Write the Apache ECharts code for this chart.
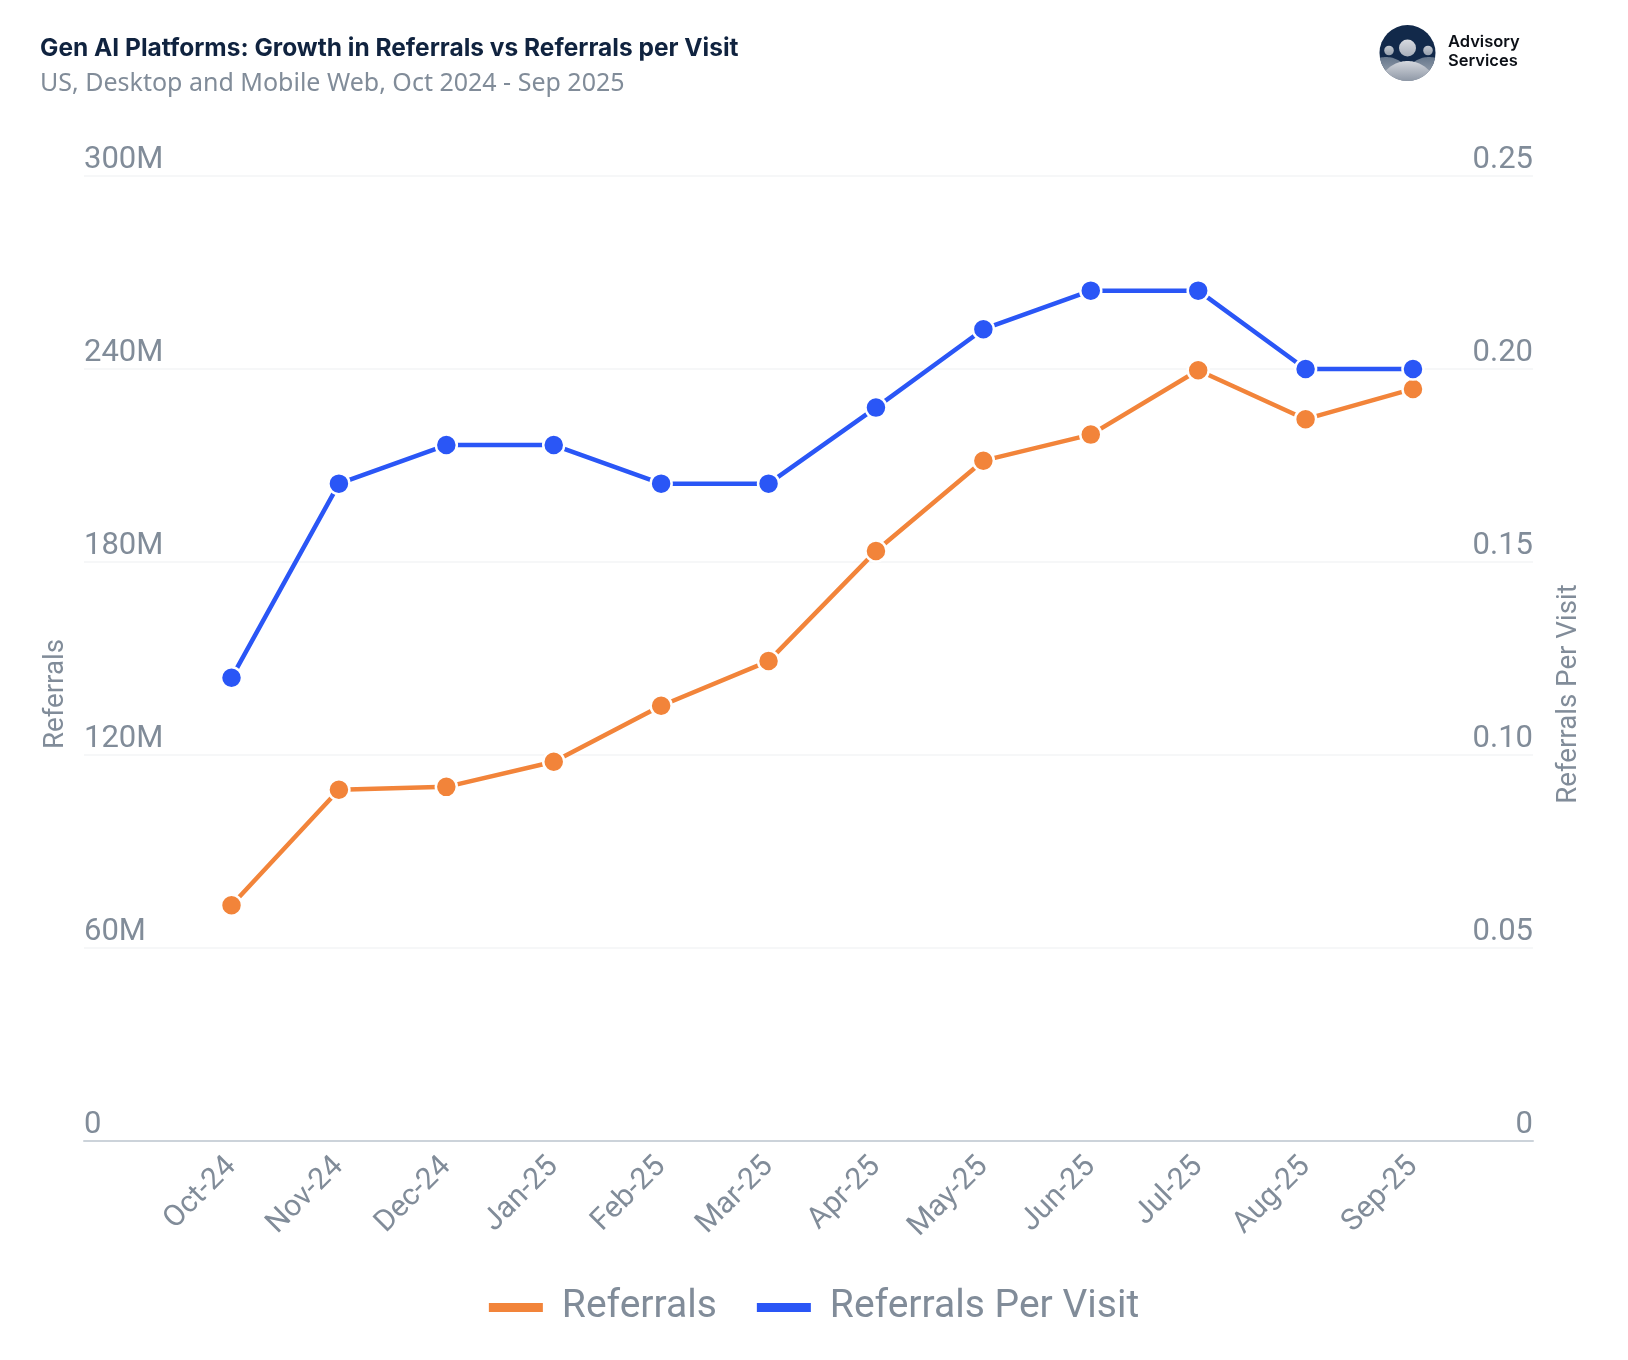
<!DOCTYPE html>
<html><head><meta charset="utf-8">
<style>html,body{margin:0;padding:0;background:#fff}#c{width:1628px;height:1360px}</style>
<script src="https://cdn.jsdelivr.net/npm/echarts@6/dist/echarts.min.js"></script>
</head><body><div id="c"></div>
<script>
const categories = ['Oct-24','Nov-24','Dec-24','Jan-25','Feb-25','Mar-25','Apr-25','May-25','Jun-25','Jul-25','Aug-25','Sep-25'];
const referrals = [73.3e6,109.2e6,110.1e6,117.9e6,135.3e6,149.2e6,183.4e6,211.5e6,219.6e6,239.6e6,224.4e6,233.8e6];
const referralsPerVisit = [0.12,0.1703,0.1803,0.1803,0.1703,0.1703,0.19,0.2103,0.2203,0.2203,0.20,0.20];
const leftMax = 300e6, leftStep = 60e6, rightMax = 0.25, rightStep = 0.05;
const GREY = '#818c99', ORANGE = '#f2843a', BLUE = '#2a56f6', FONT = 'Roboto';

const chart = echarts.init(document.getElementById('c'), null, {renderer:'canvas'});
const leftFmt = v => v === 0 ? '0' : (v/1e6) + 'M';
const rightFmt = v => v === 0 ? '0' : v.toFixed(2);
const gridTop = 176, gridBottom = 1360-1141;
const hiddenY = (max, step, pos) => ({type:'value',gridIndex:1,position:pos,min:0,max,interval:step,show:false});
const lineSeries = (name, data, color, yAxisIndex, z) => ({
  name, type:'line', data, xAxisIndex:1, yAxisIndex, z, color,
  symbol:'circle', symbolSize:21, showSymbol:true,
  lineStyle:{color,width:4.5},
  itemStyle:{color,borderColor:'#fff',borderWidth:2.5},
  emphasis:{disabled:true}, animation:false
});
const grad = (a,b)=>({type:'linear',x:0,y:0,x2:0,y2:1,colorStops:[{offset:0,color:a},{offset:1,color:b}]});
// logo artwork: a dome circle clipped to the logo disc
const LOGO = {cx:1407.5, cy:53, r:28};
const clippedDisc = (cx,cy,r) => {
  const pts = [];
  for (let i=0;i<120;i++){
    const a = i/120*Math.PI*2;
    let x = cx+r*Math.cos(a), y = cy+r*Math.sin(a);
    const d = Math.hypot(x-LOGO.cx,y-LOGO.cy);
    if (d>LOGO.r){ x = LOGO.cx+(x-LOGO.cx)*LOGO.r/d; y = LOGO.cy+(y-LOGO.cy)*LOGO.r/d; }
    pts.push([x,y]);
  }
  return pts;
};
const logoEls = [
  {type:'circle',z:10,shape:{cx:LOGO.cx,cy:LOGO.cy,r:LOGO.r},style:{fill:'#12294a'}},
  {type:'polygon',z:11,shape:{points:clippedDisc(1386,82,25)},style:{fill:grad('#66778c','#a8afb9')}},
  {type:'polygon',z:11,shape:{points:clippedDisc(1429,82,25)},style:{fill:grad('#66778c','#a8afb9')}},
  {type:'polygon',z:12,shape:{points:clippedDisc(LOGO.cx,90,29)},style:{fill:grad('#d5d8de','#8f98a6')}},
  {type:'circle',z:13,shape:{cx:LOGO.cx,cy:48,r:8.5},style:{fill:grad('#d7dae0','#a9b0bb')}},
  {type:'circle',z:13,shape:{cx:1389,cy:50.5,r:4.8},style:{fill:grad('#c3c8d0','#96a0ad')}},
  {type:'circle',z:13,shape:{cx:1428,cy:50.5,r:4.8},style:{fill:grad('#c3c8d0','#96a0ad')}}
];
chart.setOption({
  animation:false, backgroundColor:'#fff',
  grid:[
    {left:84,right:95,top:gridTop,bottom:gridBottom},
    {left:177.8,right:161.3,top:gridTop,bottom:gridBottom}
  ],
  xAxis:[
    {type:'value',gridIndex:0,min:0,max:1,axisLabel:{show:false},axisTick:{show:false},splitLine:{show:false},
     axisLine:{show:true,lineStyle:{color:'#ccd3da',width:2}}},
    {type:'category',gridIndex:1,data:categories,axisTick:{show:false},axisLine:{show:false},splitLine:{show:false},
     axisLabel:{rotate:45,interval:0,color:GREY,fontFamily:FONT,fontSize:30,margin:21}}
  ],
  yAxis:[
    {type:'value',gridIndex:0,position:'left',min:0,max:leftMax,interval:leftStep,
     axisLine:{show:false},axisTick:{show:false},
     splitLine:{show:true,lineStyle:{color:'#f3f4f6',width:1.5}},
     axisLabel:{inside:true,margin:0,align:'left',verticalAlign:'bottom',color:GREY,fontFamily:FONT,fontSize:31,formatter:leftFmt}},
    {type:'value',gridIndex:0,position:'right',min:0,max:rightMax,interval:rightStep,
     axisLine:{show:false},axisTick:{show:false},splitLine:{show:false},
     axisLabel:{inside:true,margin:0,align:'right',verticalAlign:'bottom',color:GREY,fontFamily:FONT,fontSize:31,formatter:rightFmt}},
    hiddenY(leftMax,leftStep,'left'),
    hiddenY(rightMax,rightStep,'right')
  ],
  legend:{
    left:'center',top:1283,itemWidth:54,itemHeight:9,itemGap:40,icon:'rect',
    textStyle:{color:GREY,fontFamily:FONT,fontSize:39,padding:[0,0,0,14]},
    itemStyle:{borderWidth:0},
    data:['Referrals','Referrals Per Visit']
  },
  series:[
    lineSeries('Referrals',referrals,ORANGE,2,3),
    lineSeries('Referrals Per Visit',referralsPerVisit,BLUE,3,4)
  ],
  graphic:[
    {type:'text',x:40,y:36,style:{text:'Gen AI Platforms: Growth in Referrals vs Referrals per Visit',fill:'#10233f',font:'700 24.5px Inter'}},
    {type:'text',x:40,y:71,style:{text:'US, Desktop and Mobile Web, Oct 2024 - Sep 2025',fill:GREY,font:'400 25px "Noto Sans"'}},
    {type:'text',x:56,y:694,rotation:Math.PI/2,style:{text:'Referrals',fill:GREY,font:'400 27.7px Roboto',align:'center',verticalAlign:'middle'}},
    {type:'text',x:1569,y:694,rotation:Math.PI/2,style:{text:'Referrals Per Visit',fill:GREY,font:'400 27.7px Roboto',align:'center',verticalAlign:'middle'}},
    ...logoEls,
    {type:'text',x:1448,y:33,style:{text:'Advisory\nServices',fill:'#0b0f16',font:'600 16.5px Inter',lineHeight:18.5}}
  ]
});
</script></body></html>
